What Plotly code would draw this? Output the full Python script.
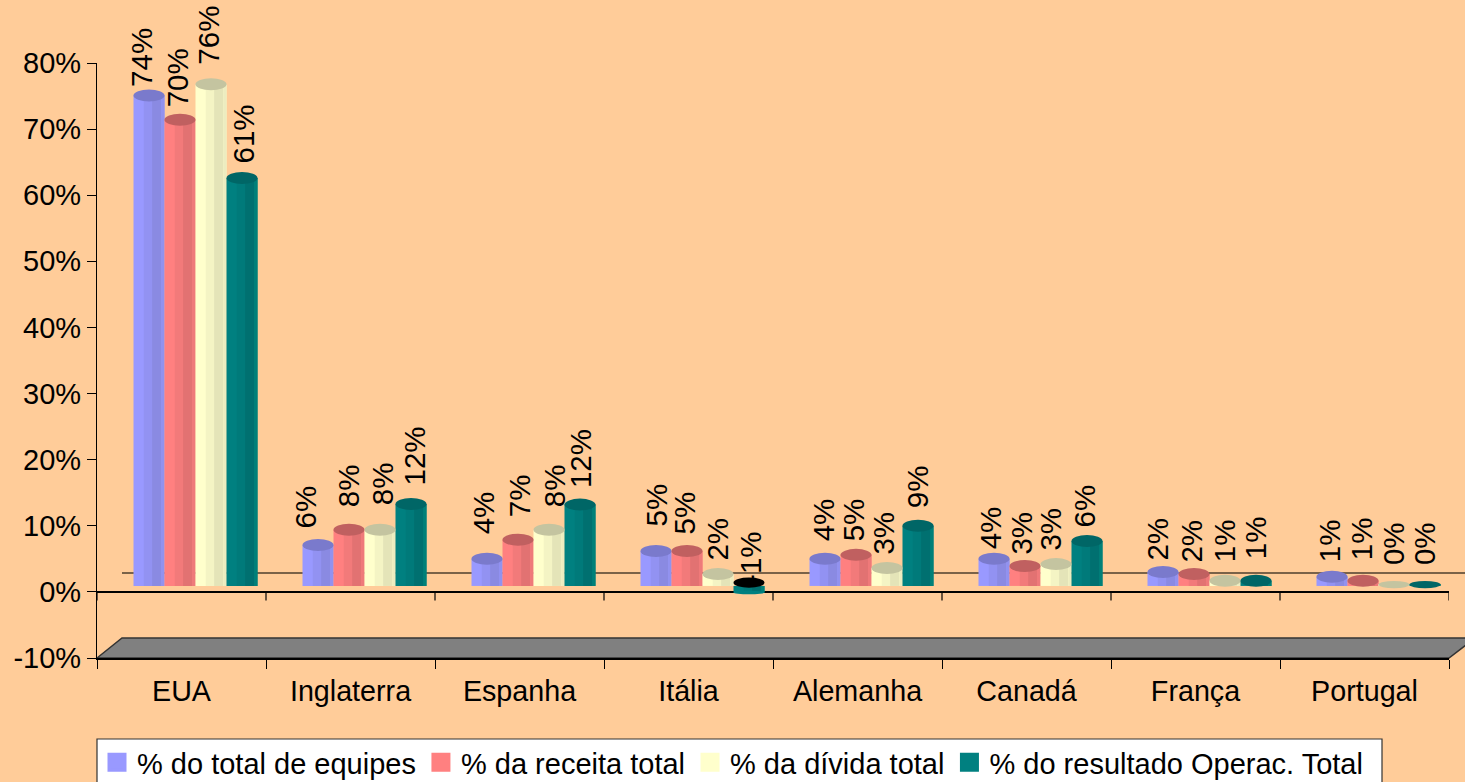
import plotly.graph_objects as go

categories = ["EUA", "Inglaterra", "Espanha", "Itália", "Alemanha", "Canadá", "França", "Portugal"]
series_names = ["% do total de equipes", "% da receita total", "% da dívida total", "% do resultado Operac. Total"]

equipes = [74.2, 6.2, 4.1, 5.3, 4.1, 4.1, 2.1, 1.4]
receita = [70.5, 8.5, 7.0, 5.3, 4.7, 3.0, 1.8, 0.8]
divida = [75.9, 8.5, 8.5, 1.8, 2.7, 3.3, 0.8, 0.2]
resultado = [61.7, 12.4, 12.3, -1.0, 9.1, 6.8, 0.8, 0.2]

labels_equipes = ["74%", "6%", "4%", "5%", "4%", "4%", "2%", "1%"]
labels_receita = ["70%", "8%", "7%", "5%", "5%", "3%", "2%", "1%"]
labels_divida = ["76%", "8%", "8%", "2%", "3%", "3%", "1%", "0%"]
labels_resultado = ["61%", "12%", "12%", "-1%", "9%", "6%", "1%", "0%"]

y_tick_values = [-10, 0, 10, 20, 30, 40, 50, 60, 70, 80]
y_tick_labels = ["-10%", "0%", "10%", "20%", "30%", "40%", "50%", "60%", "70%", "80%"]

series = [equipes, receita, divida, resultado]
labels = [labels_equipes, labels_receita, labels_divida, labels_resultado]

# label nudges in pixels (style only)
label_rise = [
    [8, 16, 24, 24, 17, 9, 11, 14],
    [12, 22, 22, 16, 13, 11, 11, 20],
    [19, 24, 22, 13, 13, 13, 18, 19],
    [14, 18, 16, 2, 17, 13, 21, 19],
]
label_side = [
    [-7, -13, -4, 0, -2, -4, -5, -3],
    [-3, -1, 1, -3, -3, -3, -2, -2],
    [-2, 2, 5, 0, -3, -5, -1, -1],
    [2, 3, 0, 2, -1, -3, -1, -1],
]

# colours: face, 3 shading strips, cap
palette = [
    ["#9999FF", "#9292F2", "#8A8AE2", "#9292EE", "#7A7ACC"],
    ["#FF8080", "#F27A7A", "#E27272", "#EE7A7A", "#C06060"],
    ["#FFFFCC", "#F4F4C4", "#E4E4B8", "#ECECC0", "#C4C4A0"],
    ["#008080", "#007A7A", "#007070", "#008078", "#006666"],
]
BG = "#FFCC99"
FONT = "Liberation Sans"
FS = 29

W, H = 1465, 782
L, R, T, B = 97, 1449, 63, 658
PW, PH = R - L, B - T
CAT_PX = PW / len(categories)
BAR_W = 31 / CAT_PX
SHIFT = 14 / CAT_PX
BASE = 0.9
UNIT_PX = PH / 90
CAP = 6 / UNIT_PX


def paper_x(px):
    return (px - L) / PW


def paper_y(px):
    return (B - px) / PH


fig = go.Figure()
shapes = []
annotations = []

# grey floor and rear zero line
floor = [(97, 658), (122, 638), (1475, 638), (1449, 658)]
path = "M " + " L ".join(f"{paper_x(x):.5f},{paper_y(y):.5f}" for x, y in floor) + " Z"
shapes.append(dict(type="path", path=path, xref="paper", yref="paper", fillcolor="#808080",
                   line=dict(color="#333333", width=1.5), layer="below"))
shapes.append(dict(type="line", xref="paper", yref="y", x0=paper_x(122), x1=paper_x(1470),
                   y0=2.85, y1=2.85, line=dict(color="#7A6248", width=2), layer="below"))
# legend box
shapes.append(dict(type="rect", xref="paper", yref="paper", x0=paper_x(97), x1=paper_x(1382),
                   y0=paper_y(739), y1=paper_y(795), fillcolor="#FFFFFF",
                   line=dict(color="#333333", width=1.2), layer="below"))

for i in range(len(categories) + 1):
    shapes.append(dict(type="line", xref="x", yref="y", x0=i - 0.5, x1=i - 0.5, y0=0, y1=-1.3,
                       line=dict(color="#000000", width=1.2), layer="below"))

strips = [(0.33, 0.27), (0.60, 0.30), (0.90, 0.10)]
for j, vals in enumerate(series):
    off = SHIFT + (j - 2) * BAR_W
    colors = palette[j]
    fig.add_trace(go.Bar(x=categories, y=vals, base=BASE, width=BAR_W, offset=off,
                         marker=dict(color=colors[0], line=dict(width=0)),
                         name=series_names[j], showlegend=False))
    for k, (start, frac) in enumerate(strips):
        fig.add_trace(go.Bar(x=categories, y=vals, base=BASE, width=BAR_W * frac,
                             offset=off + BAR_W * start,
                             marker=dict(color=colors[k + 1], line=dict(width=0)),
                             name=series_names[j], showlegend=False))
    for i, v in enumerate(vals):
        x0 = i + off
        x1 = x0 + BAR_W
        if v >= 0:
            cy = BASE + v
            # thin caps for tiny bars
            h = CAP if v > 0.6 else CAP * 0.6
            cap_color = colors[4]
        else:
            # rounded underside of a negative bar, dark opening on top
            bottom = BASE + v
            shapes.append(dict(type="circle", xref="x", yref="y", x0=x0, x1=x1,
                               y0=bottom - CAP * 0.3, y1=bottom + CAP * 0.3,
                               fillcolor=colors[0], line=dict(width=0), layer="above"))
            cy = BASE + 0.5
            h = CAP * 0.85
            cap_color = "#000000"
        shapes.append(dict(type="circle", xref="x", yref="y", x0=x0, x1=x1, y0=cy - h, y1=cy + h,
                           fillcolor=cap_color, line=dict(width=0), layer="above"))
        annotations.append(dict(
            x=i, y=BASE + max(v, 0), xref="x", yref="y", text=labels[j][i], textangle=-90,
            showarrow=False, xanchor="center", yanchor="bottom", borderpad=0, borderwidth=0,
            xshift=(off + BAR_W / 2) * CAT_PX + label_side[j][i],
            yshift=label_rise[j][i],
            font=dict(family=FONT, size=29.5, color="#000000")))

# legend entries (square swatches)
for j, name in enumerate(series_names):
    fig.add_trace(go.Scatter(x=[categories[0]], y=[None], mode="markers", name=name,
                             marker=dict(symbol="square", size=16, color=palette[j][0],
                                         line=dict(color=palette[j][0], width=3))))

fig.update_layout(
    width=W, height=H,
    margin=dict(l=L, r=W - R, t=T, b=H - B, pad=0, autoexpand=False),
    paper_bgcolor=BG, plot_bgcolor=BG,
    barmode="overlay", showlegend=True, hovermode=False,
    font=dict(family=FONT, size=FS, color="#000000"),
    shapes=shapes, annotations=annotations,
    xaxis=dict(type="category", categoryorder="array", categoryarray=categories,
               range=[-0.5, len(categories) - 0.5], tickson="boundaries", ticks="outside",
               ticklen=9, tickwidth=1.2, tickcolor="#000000", showline=True, linecolor="#000000",
               linewidth=1.5, showgrid=False, zeroline=False, anchor="y", ticklabelstandoff=7,
               tickfont=dict(family=FONT, size=28.7)),
    yaxis=dict(range=[-10, 80], tickvals=y_tick_values, ticktext=y_tick_labels,
               ticks="outside", ticklen=9, tickwidth=1.2, tickcolor="#000000",
               showline=True, linecolor="#000000", linewidth=1.2, showgrid=False,
               zeroline=True, zerolinecolor="#000000", zerolinewidth=1.5,
               tickfont=dict(family=FONT, size=FS)),
    legend=dict(orientation="h", x=paper_x(97), y=paper_y(737), xanchor="left", yanchor="top",
                bgcolor="rgba(0,0,0,0)", borderwidth=0,
                font=dict(family=FONT, size=FS, color="#000000"),
                itemclick=False, itemdoubleclick=False),
)

fig.write_html("out.html", post_script="document.body.style.margin='0';", config=dict(displayModeBar=False))
